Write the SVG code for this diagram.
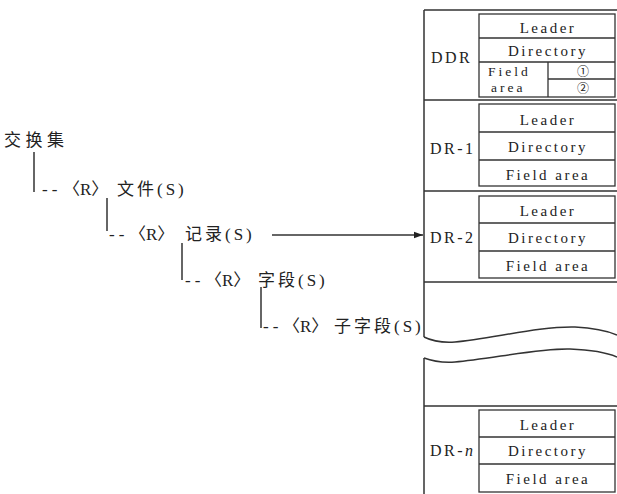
<svg xmlns="http://www.w3.org/2000/svg" width="617" height="494" viewBox="0 0 617 494">
<style>
  .ln { stroke:#333; stroke-width:1.5; fill:none; }
  .bx { stroke:#333; stroke-width:1.3; fill:#fff; }
  .t { font-family:"Liberation Serif","Noto Sans CJK SC",serif; fill:#222; }
  .lbl { font-size:15px; letter-spacing:2.5px; text-anchor:middle; }
  .rl { font-size:16px; letter-spacing:2.5px; }
  .fa { font-size:13.5px; letter-spacing:3px; }
  .tree { font-size:17px; }
  .dash { letter-spacing:4px; }
  .cn { letter-spacing:3px; }
  .ang { letter-spacing:0px; }
  .circ { font-family:"Noto Sans CJK SC","DejaVu Sans",sans-serif; font-size:12px; fill:#222; text-anchor:middle; }
</style>
<defs>
  <marker id="arr" markerWidth="10" markerHeight="8" refX="9" refY="4" orient="auto" markerUnits="userSpaceOnUse">
    <path d="M0,0.8 L9,4 L0,7.2 Z" fill="#222"/>
  </marker>
</defs>

<g id="column">
  <path class="ln" d="M424,10 V337 M424,358 V494"/>
  <path class="ln" d="M424,10 H617 M424,100 H617 M424,191 H617 M424,282 H617 M424,406 H617"/>
  <path class="ln" d="M424,337 C432,341 440,343 455,342 C490,339 540,326 575,327 C595,328 610,332 617,335"/>
  <path class="ln" d="M424,358 C432,361 440,363 455,362 C490,359 540,348 570,349 C595,350 610,354 617,357"/>
</g>

<g id="ddr">
  <rect class="bx" x="479" y="14" width="136" height="83"/>
  <path class="ln" style="stroke-width:1.3" d="M479,38 H615 M479,62 H615 M548,62 V97 M548,79 H615"/>
  <text class="t rl" x="431" y="63">DDR</text>
  <text class="t lbl" x="548" y="33">Leader</text>
  <text class="t lbl" x="548" y="56">Directory</text>
  <text class="t fa" x="488" y="76">Field</text>
  <text class="t fa" x="491" y="92">area</text>
  <text class="circ" x="583" y="75.5">①</text>
  <text class="circ" x="583" y="93">②</text>
</g>

<g id="dr1">
  <rect class="bx" x="479" y="104" width="136" height="82"/>
  <path class="ln" style="stroke-width:1.3" d="M479,132 H615 M479,160 H615"/>
  <text class="t rl" x="430" y="154">DR-1</text>
  <text class="t lbl" x="548" y="125">Leader</text>
  <text class="t lbl" x="548" y="152">Directory</text>
  <text class="t lbl" x="548" y="180">Field area</text>
</g>

<g id="dr2">
  <rect class="bx" x="479" y="196" width="136" height="82"/>
  <path class="ln" style="stroke-width:1.3" d="M479,223 H615 M479,251 H615"/>
  <text class="t rl" x="430" y="243">DR-2</text>
  <text class="t lbl" x="548" y="216">Leader</text>
  <text class="t lbl" x="548" y="243">Directory</text>
  <text class="t lbl" x="548" y="271">Field area</text>
</g>

<g id="drn">
  <rect class="bx" x="479" y="410" width="136" height="82"/>
  <path class="ln" style="stroke-width:1.3" d="M479,437 H615 M479,464 H615"/>
  <text class="t rl" x="430" y="456">DR-<tspan font-style="italic">n</tspan></text>
  <text class="t lbl" x="548" y="430">Leader</text>
  <text class="t lbl" x="548" y="456">Directory</text>
  <text class="t lbl" x="548" y="484">Field area</text>
</g>

<g id="tree-root">
  <text class="t tree" x="4" y="146" style="letter-spacing:4.5px">交换集</text>
</g>
<g id="tree-file">
  <text class="t tree" y="195"><tspan class="dash" x="42">--</tspan><tspan class="ang" x="63">〈R〉</tspan><tspan class="cn" x="117">文件(S)</tspan></text>
</g>
<g id="tree-record">
  <text class="t tree" y="240"><tspan class="dash" x="109">--</tspan><tspan class="ang" x="129">〈R〉</tspan><tspan class="cn" x="185">记录(S)</tspan></text>
</g>
<g id="tree-field">
  <text class="t tree" y="286"><tspan class="dash" x="185">--</tspan><tspan class="ang" x="205">〈R〉</tspan><tspan class="cn" x="258">字段(S)</tspan></text>
</g>
<g id="tree-subfield">
  <text class="t tree" y="332"><tspan class="dash" x="263">--</tspan><tspan class="ang" x="283">〈R〉</tspan><tspan class="cn" x="334">子字段(S)</tspan></text>
</g>

<g id="connectors">
  <path class="ln" d="M34,152 V192"/>
  <path class="ln" d="M107,198 V231"/>
  <path class="ln" d="M182,243 V280"/>
  <path class="ln" d="M261,287 V328"/>
  <path class="ln" d="M272,235 H423" marker-end="url(#arr)"/>
</g>
</svg>
